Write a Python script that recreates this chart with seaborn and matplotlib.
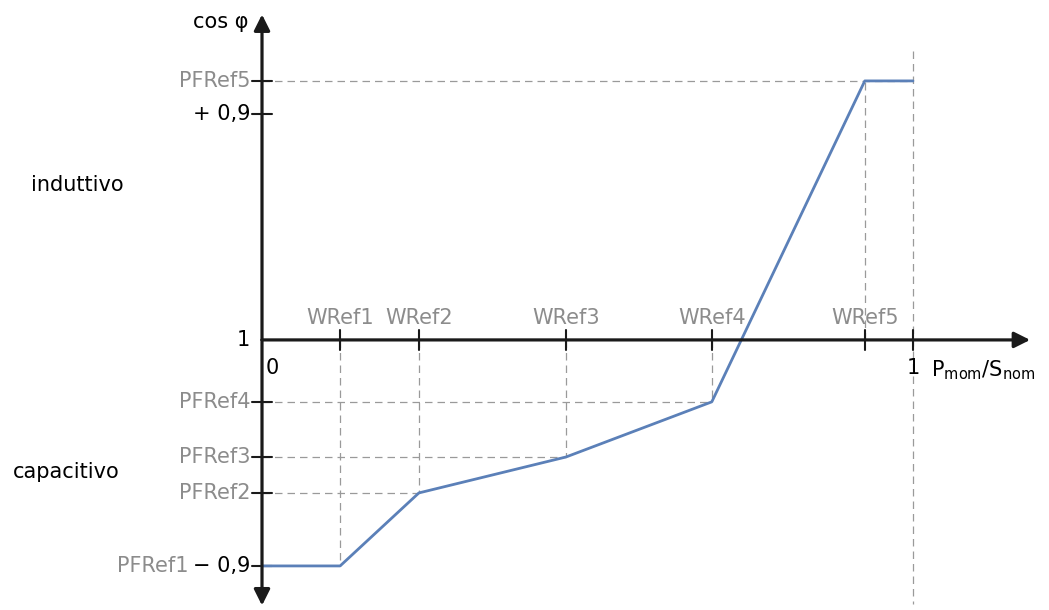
import matplotlib
matplotlib.use("Agg")
import matplotlib.pyplot as plt
import seaborn as sns
import pandas as pd

sns.set_style("white")
plt.rcParams['font.family'] = ['DejaVu Sans']

# data (x: P/S_nom, y: cos phi deviation, 0 = cos phi 1, +/-1 = +/-0.9)
w_labels = ["WRef1", "WRef2", "WRef3", "WRef4", "WRef5"]
w_vals = [0.12, 0.241, 0.467, 0.691, 0.926]
pf_labels = ["PFRef1", "PFRef2", "PFRef3", "PFRef4", "PFRef5"]
pf_vals = [-1.0, -0.677, -0.518, -0.274, 1.146]

curve = pd.DataFrame({
    "p": [0.0] + w_vals + [1.0],
    "cos": [pf_vals[0]] + pf_vals + [pf_vals[-1]],
})

fig = plt.figure(figsize=(10.49, 6.1), dpi=100)
ax = fig.add_axes([0, 0, 1, 1])
ax.set_xlim(-0.4025, 1.209)
ax.set_ylim(-1.195, 1.504)
ax.axis("off")

px = 1 / 651  # one pixel in x data units
py = 1 / 226  # one pixel in y data units
grey = "#8c8c8c"
fs = 15

# axes with arrows
arrow = dict(arrowstyle="-|>", color="#1a1a1a", lw=2.3, mutation_scale=24, shrinkA=0, shrinkB=0)
ax.annotate("", xy=(1.18, 0), xytext=(0, 0), arrowprops=arrow)
ax.annotate("", xy=(0, 1.44), xytext=(0, 0), arrowprops=arrow)
ax.annotate("", xy=(0, -1.175), xytext=(0, 0), arrowprops=arrow)

# dashed guides
dash = dict(color="#9a9a9a", lw=0.9, ls=(0, (6, 4)))
for i, (w, pf) in enumerate(zip(w_vals, pf_vals)):
    if i == 4:
        ax.plot([0, 1.0], [pf, pf], **dash)
    elif i > 0:
        ax.plot([0, w], [pf, pf], **dash)
    ax.plot([w, w], [0, pf], **dash)
ax.plot([1.0, 1.0], [1.28, -1.17], **dash)

# ticks
for w in w_vals + [1.0]:
    ax.plot([w, w], [-10 * py, 10 * py], color="#1a1a1a", lw=1.5)
for pf in pf_vals + [1.0]:
    ax.plot([-10 * px, 10 * px], [pf, pf], color="#1a1a1a", lw=1.5)

# curve
sns.lineplot(data=curve, x="p", y="cos", ax=ax, color="#5b80b8", lw=2, sort=False)

# labels
for lab, w in zip(w_labels, w_vals):
    ax.text(w, 22 * py, lab, color=grey, fontsize=fs, ha="center", va="center")
for lab, pf in zip(pf_labels, pf_vals):
    if lab == "PFRef1":
        ax.text(-12 * px, pf, "\u2212 0,9", color="black", fontsize=fs, ha="right", va="center")
        ax.text(-74 * px, pf, lab, color=grey, fontsize=fs, ha="right", va="center")
    else:
        ax.text(-12 * px, pf, lab, color=grey, fontsize=fs, ha="right", va="center")
ax.text(-12 * px, 1.0, "+ 0,9", color="black", fontsize=fs, ha="right", va="center")
ax.text(-12 * px, 0, "1", color="black", fontsize=fs, ha="right", va="center")
ax.text(4 * px, -28 * py, "0", color="black", fontsize=fs, ha="left", va="center")
ax.text(1.0, -28 * py, "1", color="black", fontsize=fs, ha="center", va="center")
ax.text(1.108, -30 * py, r"P$_{\mathregular{mom}}$/S$_{\mathregular{nom}}$",
        color="black", fontsize=fs, ha="center", va="center")
ax.text(-14 * px, 1.405, "cos \u03c6", color="black", fontsize=fs, ha="right", va="center")
ax.text(-0.283, 0.686, "induttivo", color="black", fontsize=fs, ha="center", va="center")
ax.text(-0.3, -0.584, "capacitivo", color="black", fontsize=fs, ha="center", va="center")

fig.savefig("out.png", dpi=100)
